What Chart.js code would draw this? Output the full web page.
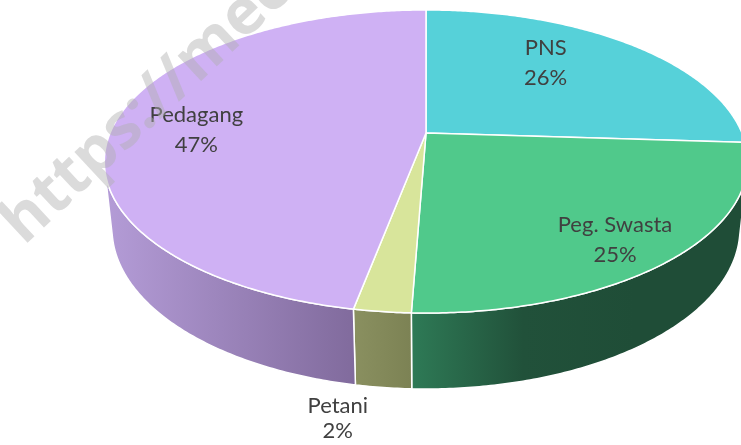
<!DOCTYPE html>
<html>
<head>
<meta charset="utf-8">
<script src="https://cdn.jsdelivr.net/npm/chart.js@4.4.1/dist/chart.umd.min.js"></script>
<style>
  html, body { margin: 0; padding: 0; background: #fff; }
</style>
</head>
<body>
<canvas id="pie" width="741" height="445"></canvas>
<script>
const categories = ["PNS", "Peg. Swasta", "Petani", "Pedagang"];
const shares = [26, 24.6, 2.4, 47];

const topColors = ["#56D1D9", "#50C98B", "#D8E59B", "#CFB1F4"];
// side wall shading, left -> right
const wallColors = [
  ["#2E9AA1", "#1F6E73"],
  ["#2E7A56", "#21513A", "#1F4D37", "#1F4D37"],
  ["#8A9060", "#7C8254"],
  ["#B49CD7", "#816B9D"],
];
// where each label sits: fraction of radius + small angle nudge (deg)
const labelPlace = [
  { f: 0.67, da: -8.4, gap: 30 },
  { f: 0.83, da: 2.8, gap: 30 },
  { out: true, da: 7.1, gap: 25 },
  { f: 0.73, da: -3.8, gap: 30 },
];

// 3D view of the disc
const CX = 426, CY = 133, FOC = 1490, DIST = 4.716;
const TILT_S = 0.4627, TILT_C = 0.8865, DEPTH = 0.242;

function project(a, r, z) {
  const u = r * Math.cos(a), w = r * Math.sin(a);
  const d = DIST - w * TILT_C - z * TILT_S;
  const v = -w * TILT_S + z * TILT_C;
  return [CX + FOC * u / d, CY - FOC * v / d];
}

function arcPath(ctx, a0, a1, z, first) {
  const n = Math.max(2, Math.ceil(Math.abs(a1 - a0) / 0.01));
  for (let k = 0; k <= n; k++) {
    const p = project(a0 + (a1 - a0) * k / n, 1, z);
    if (first && k === 0) ctx.moveTo(p[0], p[1]);
    else ctx.lineTo(p[0], p[1]);
  }
}

const pie3d = {
  id: "pie3d",
  beforeDatasetsDraw(chart) {
    const ctx = chart.ctx;
    const arcs = chart.getDatasetMeta(0).data;
    const aL = Math.asin(1 / (DIST * TILT_C));
    const aR = Math.PI - aL;
    ctx.save();
    ctx.lineJoin = "round";
    ctx.strokeStyle = "#ffffff";
    ctx.lineWidth = 1.5;

    // outer walls (front half only)
    arcs.forEach((arc, i) => {
      const a0 = Math.max(arc.startAngle, aL);
      const a1 = Math.min(arc.endAngle, aR);
      if (a1 <= a0) return;
      ctx.beginPath();
      arcPath(ctx, a0, a1, 0, true);
      arcPath(ctx, a1, a0, -DEPTH, false);
      ctx.closePath();
      const xa = project(a1, 1, 0)[0], xb = project(a0, 1, 0)[0];
      const g = ctx.createLinearGradient(Math.min(xa, xb), 0, Math.max(xa, xb), 0);
      const stops = wallColors[i];
      stops.forEach((c, k) => g.addColorStop(k / (stops.length - 1), c));
      ctx.fillStyle = g;
      ctx.fill();
      ctx.stroke();
    });

    // top faces
    arcs.forEach((arc, i) => {
      const c = project(0, 0, 0);
      ctx.beginPath();
      ctx.moveTo(c[0], c[1]);
      arcPath(ctx, arc.startAngle, arc.endAngle, 0, false);
      ctx.closePath();
      ctx.fillStyle = topColors[i];
      ctx.fill();
      ctx.stroke();
    });
    ctx.restore();
    return false;
  },
  afterDraw(chart) {
    const ctx = chart.ctx;
    const arcs = chart.getDatasetMeta(0).data;
    const total = shares.reduce((s, v) => s + v, 0);
    ctx.save();
    ctx.font = '22px Lato, "Open Sans", sans-serif';
    ctx.fillStyle = "#404040";
    ctx.textAlign = "center";
    ctx.textBaseline = "middle";
    arcs.forEach((arc, i) => {
      const pl = labelPlace[i];
      const mid = (arc.startAngle + arc.endAngle) / 2 + pl.da * Math.PI / 180;
      let x, y;
      if (pl.out) {
        [x, y] = project(mid, 1, -DEPTH);
        y += 36;
      } else {
        [x, y] = project(mid, pl.f, 0);
      }
      ctx.fillText(categories[i], x, y - pl.gap / 2);
      ctx.fillText(Math.round(shares[i] / total * 100) + "%", x, y + pl.gap / 2);
    });
    ctx.restore();

    // watermark
    ctx.save();
    ctx.translate(24, 246);
    ctx.rotate(-43 * Math.PI / 180);
    ctx.font = 'bold 63px "Open Sans", sans-serif';
    ctx.fillStyle = "rgba(175,175,175,0.45)";
    ctx.textBaseline = "alphabetic";
    ctx.fillText("https://mec", 0, 0);
    ctx.restore();
  },
};

new Chart(document.getElementById("pie"), {
  type: "pie",
  data: {
    labels: categories,
    datasets: [{ data: shares, backgroundColor: topColors, borderWidth: 0 }],
  },
  options: {
    responsive: false,
    devicePixelRatio: 1,
    animation: false,
    plugins: {
      legend: { display: false },
      tooltip: { enabled: false },
    },
  },
  plugins: [pie3d],
});
</script>
</body>
</html>
